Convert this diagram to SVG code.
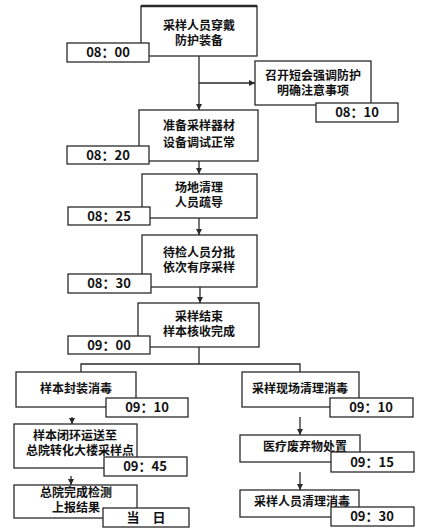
<svg xmlns="http://www.w3.org/2000/svg" width="426" height="531" viewBox="0 0 426 531">
<style>
.box{fill:#fff;stroke:#2a2a2a;stroke-width:1.3}
.tbox{fill:#fff;stroke:#2a2a2a;stroke-width:1.3}
.t{font-family:"Noto Sans CJK SC","Noto Sans",sans-serif;font-weight:bold;font-size:12px;fill:#111;text-anchor:middle}
.tm{font-family:"Noto Sans CJK SC","Noto Sans",sans-serif;font-weight:bold;font-size:13px;fill:#111;text-anchor:middle}
.ln{fill:none;stroke:#2a2a2a;stroke-width:1.3}
</style>
<defs>
<marker id="ah" viewBox="0 0 10 10" refX="10" refY="5" markerWidth="6" markerHeight="6" markerUnits="userSpaceOnUse" orient="auto">
<path d="M0,0 L10,5 L0,10 z" fill="#2a2a2a"/>
</marker>
</defs>
<rect width="426" height="531" fill="#fff"/>
<g id="connectors">
<path class="ln" d="M199,56 V110" marker-end="url(#ah)"/>
<path class="ln" d="M199,83 H255" marker-end="url(#ah)"/>
<path class="ln" d="M199,161 V174" marker-end="url(#ah)"/>
<path class="ln" d="M199,218 V235" marker-end="url(#ah)"/>
<path class="ln" d="M200,287 V303" marker-end="url(#ah)"/>
<path class="ln" d="M199,347 V364 M81,372 V364 H300 V372"/>
<path class="ln" d="M72,417 V424" marker-end="url(#ah)"/>
<path class="ln" d="M71,476 V485" marker-end="url(#ah)"/>
<path class="ln" d="M300,417 V435" marker-end="url(#ah)"/>
<path class="ln" d="M300,472 V490" marker-end="url(#ah)"/>
</g>
<g id="n1">
<rect class="box" x="141" y="6" width="116" height="50"/>
<path d="M141,6 H257" stroke="#2a2a2a" stroke-width="2.5"/>
<text class="t" x="199" y="29.5">采样人员穿戴</text>
<text class="t" x="199" y="44.5">防护装备</text>
<rect class="tbox" x="67" y="43" width="82" height="19"/>
<text class="tm" x="108" y="57">08：00</text>
</g>
<g id="n2">
<rect class="box" x="255" y="61" width="116" height="44"/>
<text class="t" x="313" y="79.5">召开短会强调防护</text>
<text class="t" x="313" y="94.5">明确注意事项</text>
<rect class="tbox" x="316" y="103" width="82" height="19"/>
<text class="tm" x="357" y="117">08：10</text>
</g>
<g id="n3">
<rect class="box" x="139" y="110" width="119" height="51"/>
<text class="t" x="199" y="129.5">准备采样器材</text>
<text class="t" x="199" y="146.5">设备调试正常</text>
<rect class="tbox" x="67" y="146" width="82" height="18"/>
<text class="tm" x="108" y="159.5">08：20</text>
</g>
<g id="n4">
<rect class="box" x="142" y="174" width="115" height="44"/>
<text class="t" x="199" y="192">场地清理</text>
<text class="t" x="199" y="207">人员疏导</text>
<rect class="tbox" x="68" y="207" width="82" height="18"/>
<text class="tm" x="109" y="220.5">08：25</text>
</g>
<g id="n5">
<rect class="box" x="142" y="235" width="115" height="52"/>
<text class="t" x="199" y="257">待检人员分批</text>
<text class="t" x="199" y="272">依次有序采样</text>
<rect class="tbox" x="68" y="274" width="83" height="19"/>
<text class="tm" x="109" y="288">08：30</text>
</g>
<g id="n6">
<rect class="box" x="138" y="303" width="121" height="44"/>
<text class="t" x="199" y="321">采样结束</text>
<text class="t" x="199" y="336">样本核收完成</text>
<rect class="tbox" x="68" y="336" width="82" height="18"/>
<text class="tm" x="109" y="349.5">09：00</text>
</g>
<g id="n7">
<rect class="box" x="16" y="372" width="120" height="35"/>
<text class="t" x="76" y="392.5">样本封装消毒</text>
<rect class="tbox" x="106" y="398" width="82" height="19"/>
<text class="tm" x="147" y="412">09：10</text>
</g>
<g id="n8">
<rect class="box" x="242" y="372" width="117" height="35"/>
<text class="t" x="300" y="392.5">采样现场清理消毒</text>
<rect class="tbox" x="330" y="398" width="83" height="19"/>
<text class="tm" x="371" y="412">09：10</text>
</g>
<g id="n9">
<rect class="box" x="14" y="424" width="123" height="44"/>
<text class="t" x="75" y="439.5">样本闭环运送至</text>
<text class="t" x="80" y="454.5">总院转化大楼采样点</text>
<rect class="tbox" x="104" y="457" width="83" height="19"/>
<text class="tm" x="145" y="471">09：45</text>
</g>
<g id="n10">
<rect class="box" x="14" y="485" width="123" height="33"/>
<text class="t" x="76" y="496.5">总院完成检测</text>
<text class="t" x="76" y="511.5">上报结果</text>
<rect class="tbox" x="103" y="508" width="86" height="19"/>
<text class="tm" x="146" y="522">当　日</text>
</g>
<g id="n11">
<rect class="box" x="240" y="435" width="120" height="27"/>
<text class="t" x="305" y="450.5">医疗废弃物处置</text>
<rect class="tbox" x="331" y="452" width="83" height="20"/>
<text class="tm" x="372" y="466.5">09：15</text>
</g>
<g id="n12">
<rect class="box" x="240" y="490" width="119" height="27"/>
<text class="t" x="302" y="505.5">采样人员清理消毒</text>
<rect class="tbox" x="331" y="507" width="83" height="19"/>
<text class="tm" x="372" y="521">09：30</text>
</g>
</svg>
